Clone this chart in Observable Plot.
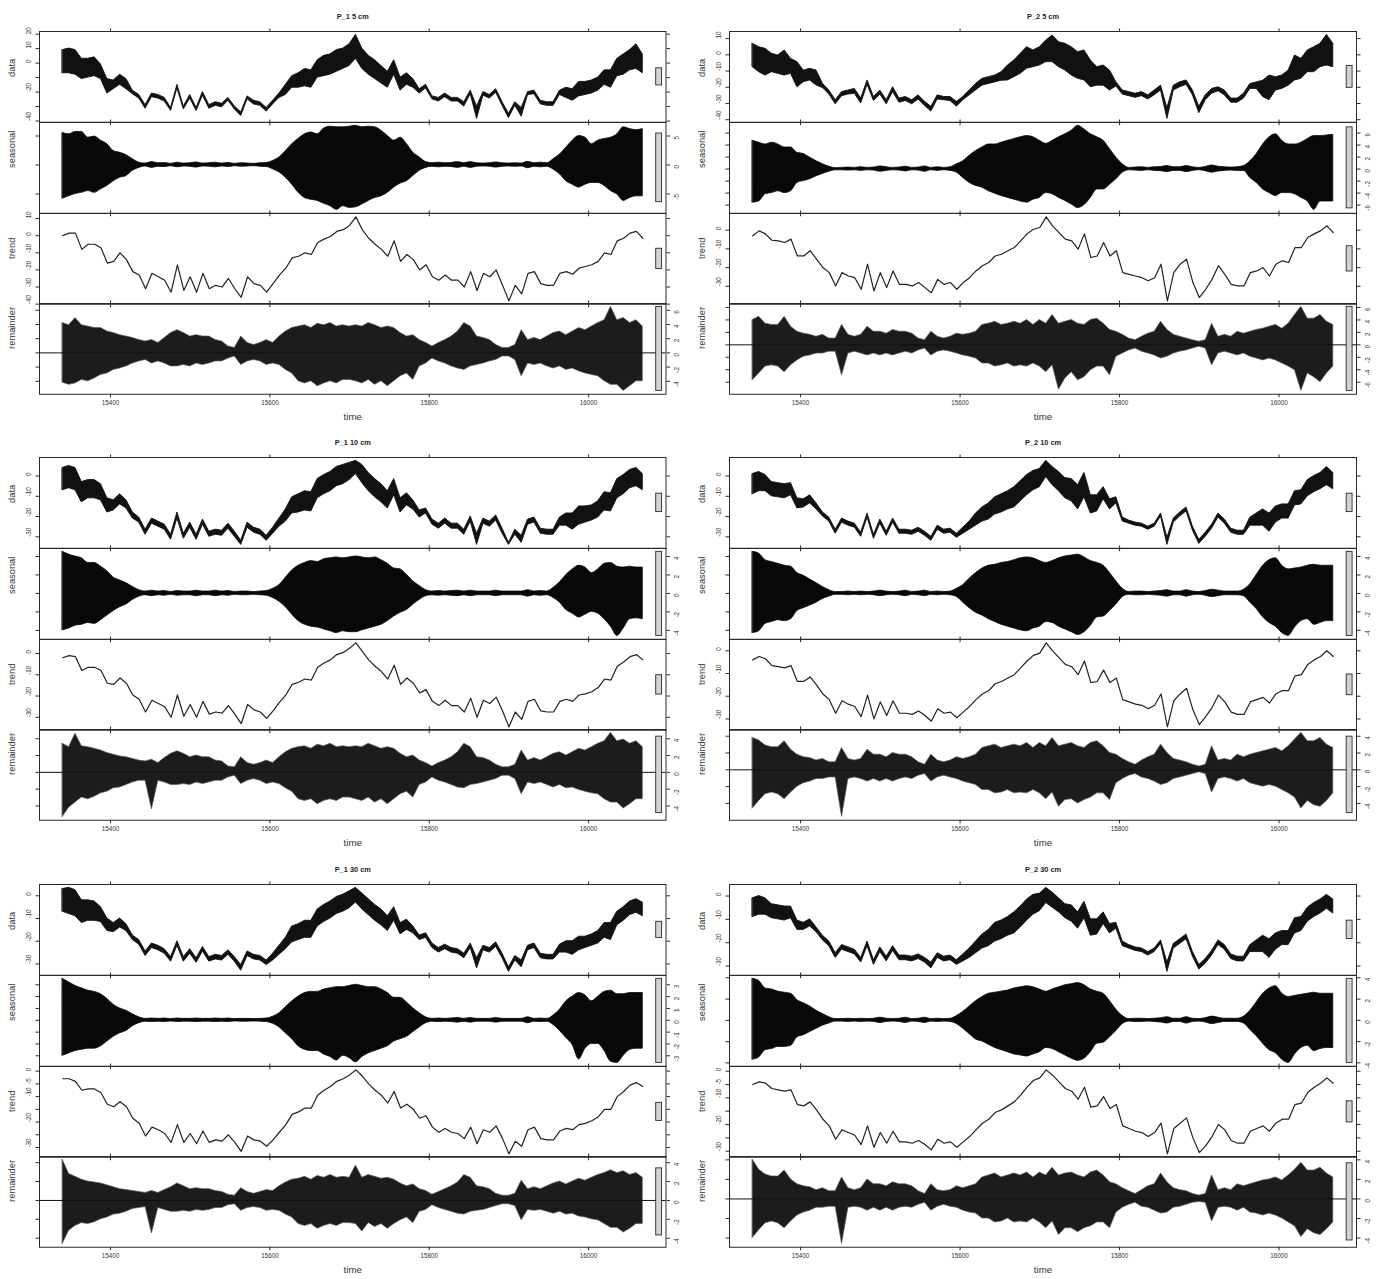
<!DOCTYPE html>
<html>
<head>
<meta charset="utf-8">
<script src="https://cdn.jsdelivr.net/npm/d3@7"></script>
<script src="https://cdn.jsdelivr.net/npm/@observablehq/plot@0.6"></script>
<style>
  html, body { margin: 0; padding: 0; background: #fff; }
  #page { position: relative; width: 1379px; height: 1279px; overflow: hidden; background: #fff; }
  #page svg { position: absolute; overflow: visible; }
</style>
</head>
<body>
<div id="page"></div>
<script>
// STL decomposition of soil temperature, sampled every 8 days
const timeStart = 15340, timeEnd = 16068, nSamples = 92;
const timeTicks = [15400, 15600, 15800, 16000];

// ---- P_1 5 cm ----
const p1_5_dataHi = [9,10,9,3,3,4,-1,-11,-12,-8, -11,-19,-22,-29,-21,-22,-24,-31,-15,-30, -22,-31,-20,-29,-27,-28,-24,-30,-34,-23, -26,-27,-31,-26,-21,-15,-9,-7,-4,-5, 2,5,6,9,10,13,19.5,10,5,2, -2,-6,2,-10,-7,-11,-18,-15,-23,-24, -21,-24,-24,-27,-19,-30,-20,-22,-18,-27, -35,-27,-31,-20,-19,-26,-27,-27,-19,-17, -18,-13,-13,-12,-10,-5,-5,3,6,9, 13,6];
const p1_5_dataLo = [-7,-7,-8,-11,-10,-9,-11,-21,-18,-15, -18,-21.5,-24.5,-31.5,-23.5,-24.5,-26.5,-33,-17.5,-32, -24.5,-33,-22.5,-31.5,-29.5,-30.5,-26,-32,-36.5,-25, -28.5,-29.5,-33.5,-28.5,-24,-22,-17,-17,-16,-17, -10,-9,-8,-6,-4,-2,3,-4,-8,-11, -14,-17,-8,-19,-15,-17,-21,-17.5,-25,-26.5, -23.5,-26.5,-26.5,-30,-21.5,-38.5,-22.5,-24.5,-20.5,-29.5, -38,-29.5,-37,-22,-21.5,-28.5,-29.5,-29.5,-22,-24, -26,-23,-22,-21,-19,-15,-17,-9,-8,-5, -4,-7];
const p1_5_seasHi = [5.5,5.3,5.7,5.7,4.7,4.9,4.2,3.6,2.4,2.1,1.7,1.0,0.4,0.25, 0.5,0.3,0.35,0.2,0.4,0.25,0.3,0.45,0.25,0.3,0.4,0.25,0.35,0.2,0.3,0.25,0.2,0.3,0.35, 0.7,1.3,2.4,3.6,4.5,5.3,5.6,5.3,6.3,6.6,6.5,6.5,6.6,6.75,6.5,6.6,6.5,5.9, 5.0,4.2,4.7,3.6,2.1,1.3,0.5, 0.3,0.4,0.3,0.35,0.5,0.3,0.5,0.3,0.25,0.3,0.45,0.3,0.25,0.3,0.25,0.55,0.3,0.4,0.3, 1.0,1.8,3.0,4.2,5.0,4.7,3.6,4.2,4.5,4.7,5.3,6.5,6.2,6.0,6.2];
const p1_5_seasLo = [-5.8,-5.4,-5.0,-4.8,-4.5,-4.8,-4.2,-3.6,-2.8,-2.2,-1.9,-1.0,-0.5,-0.25, -0.5,-0.3,-0.35,-0.2,-0.4,-0.25,-0.3,-0.45,-0.25,-0.3,-0.4,-0.25,-0.35,-0.2,-0.3,-0.25,-0.2,-0.3,-0.35, -0.75,-1.3,-2.2,-3.4,-4.8,-5.7,-6.0,-6.2,-6.7,-7.1,-7.74,-7.1,-7.4,-7.3,-6.8,-6.2,-5.7,-5.4, -4.8,-3.9,-3.2,-2.8,-1.9,-1.0,-0.5, -0.3,-0.4,-0.3,-0.35,-0.5,-0.3,-0.5,-0.3,-0.25,-0.3,-0.45,-0.3,-0.25,-0.3,-0.25,-0.55,-0.3,-0.4,-0.3, -0.8,-1.6,-2.8,-3.4,-3.9,-3.4,-3.1,-3.1,-3.6,-4.5,-5.1,-6.2,-5.7,-5.4,-5.4];
const p1_5_trend = [0,1.5,1.5,-8,-5,-5,-7,-16,-15,-10, -14,-21,-23,-31,-22,-24,-26,-33,-17,-32, -24,-33,-22,-31,-29,-30,-25,-31,-36,-24, -28,-29,-33,-28,-23,-19,-13,-12,-10,-11, -4,-2,-0.5,2.5,3.5,6,11,3.5,-1.5,-5, -8,-12,-3,-15,-11,-14,-20,-17,-24,-26, -23,-26,-26,-30,-21,-32,-22,-24,-20,-29, -38.1,-29,-34,-22,-21,-28,-29,-29,-22,-21, -22.5,-19,-18,-17,-15,-10,-11,-3,-1.5,1.5, 2.5,-1.5];
const p1_5_remHi = [4.2,3.9,4.9,3.9,3.7,3.5,3.5,3.0,2.8,2.5, 2.3,2.1,1.8,1.6,1.8,1.4,2.1,2.8,3.2,2.8, 2.3,2.5,2.3,2.3,1.8,1.6,0.9,0.7,2.3,1.4, 1.1,1.4,1.8,1.4,2.3,3.0,3.5,3.7,3.9,3.5, 4.1,3.9,4.2,3.7,3.9,3.7,3.9,3.7,4.2,3.9, 3.5,3.7,3.5,2.8,2.3,2.5,1.8,1.4,0.9,1.4, 1.8,2.3,3.0,4.2,3.7,2.3,2.1,1.8,1.1,0.7, 0.7,1.1,3.2,1.8,2.1,1.8,2.3,2.8,3.0,2.5, 3.0,3.5,3.2,3.7,4.2,4.6,6.48,4.6,4.9,4.2, 4.6,3.7];
const p1_5_remLo = [-4.2,-4.5,-4.3,-3.8,-4.0,-3.6,-3.1,-2.9,-2.4,-2.2, -1.9,-1.5,-1.2,-1.0,-1.5,-1.2,-1.5,-1.9,-1.9,-1.7, -1.9,-1.5,-1.7,-1.5,-1.2,-1.2,-0.8,-0.5,-1.7,-1.2, -1.0,-1.2,-1.7,-1.5,-1.7,-2.4,-2.9,-4.0,-4.3,-4.0, -4.7,-4.3,-4.0,-4.3,-3.8,-3.8,-4.0,-4.3,-3.8,-4.5, -4.0,-4.7,-4.0,-3.3,-2.9,-3.8,-1.9,-1.5,-0.8,-1.2, -1.5,-1.9,-2.2,-2.4,-1.9,-1.7,-1.5,-1.2,-1.0,-0.5, -0.5,-1.0,-3.3,-1.5,-1.7,-1.5,-1.9,-2.2,-1.9,-2.4, -2.2,-2.6,-2.9,-3.1,-3.3,-4.0,-4.5,-4.5,-5.35,-4.7, -4.0,-4.0];
const p1_5_dataTicks = [-40,-30,-20,-10,0,10,20], p1_5_dataLabels = [-40,-20,0,10,20];
const p1_5_seasTicks = [-5,0,5], p1_5_seasLabels = [-5,0,5];
const p1_5_trendTicks = [-40,-30,-20,-10,0,10], p1_5_trendLabels = [-40,-30,-20,-10,0,10];
const p1_5_remTicks = [-4,-2,0,2,4,6], p1_5_remLabels = [-4,-2,0,2,4,6];

// ---- P_2 5 cm ----
const p2_5_dataHi = [6.8,4.7,3.7,0.6,-0.4,2.7,-2.5,-4.5,-9.7,-8.6, -9.7,-17.9,-22,-28,-23,-22,-21,-27,-15.8,-26, -22,-28,-20,-27,-26,-28,-25,-29,-32,-25, -26,-26,-29,-26,-22,-18,-14.8,-13.8,-12.8,-10.7, -6.6,-3.5,0.6,4.7,2.7,4.7,8.8,11.9,7.8,6.8, 4.7,1.6,2.7,-3.5,-7.6,-6.6,-9.7,-16.9,-22,-23, -24,-23,-25,-22,-19,-33,-19,-16.9,-15.8,-22, -32,-25,-21,-20,-22,-27,-27,-24,-18,-17, -16,-12.8,-13.8,-12.8,-9.7,-0.4,-2.5,2.7,4.7,6.8, 12.3,6.8];
const p2_5_dataLo = [-7.6,-10.7,-12.8,-10.7,-11.7,-12.8,-11.7,-20,-16.9,-15.8, -18.9,-20.5,-24.5,-30.5,-25.5,-24.5,-24,-30,-18.5,-28.5, -24.5,-30.5,-23,-29.5,-28.5,-30.5,-27.5,-31.5,-35,-27.5, -28,-28.5,-32,-28,-25,-22,-19,-18,-17,-16, -15.8,-13.8,-11.7,-8.6,-7.6,-6.6,-4.5,-4.5,-7.6,-9.7, -12.8,-14.8,-15.8,-20,-19,-19,-22,-19.5,-24.5,-25.5, -26.5,-25.5,-27.5,-25,-22,-39.5,-22,-20,-18.5,-25, -36,-28,-24,-22.5,-25,-29.5,-29.5,-27,-21,-21, -26,-28,-22,-21,-19,-15.8,-14.8,-10.7,-10.7,-7.6, -6.6,-7.6];
const p2_5_seasHi = [4.7,4.4,4.1,4.4,4.1,3.6,3.6,2.7,2.5,1.9,1.3,0.8,0.4,0.15, 0.2,0.25,0.2,0.3,0.2,0.25,0.45,0.3,0.2,0.25,0.4,0.2,0.25,0.45,0.2,0.3,0.2,0.3, 0.8,1.3,2.2,3.0,3.6,4.1,4.1,4.4,4.7,5.0,5.3,5.5,5.3,4.7,4.2,4.7,5.3,5.8,6.4,7.2,6.6,5.8,5.3,4.7,3.3,1.9,0.8, 0.2,0.25,0.3,0.2,0.3,0.35,0.5,0.3,0.3,0.5,0.3,0.2,0.35,0.6,0.4,0.3,0.25,0.3, 0.5,1.3,2.5,4.1,5.3,5.8,4.7,4.1,4.1,4.4,5.0,5.5,5.5,5.6,5.7];
const p2_5_seasLo = [-5.6,-5.4,-4.2,-4.0,-3.7,-4.0,-3.7,-2.3,-2.0,-1.7,-1.2,-0.8,-0.45,-0.2, -0.2,-0.25,-0.2,-0.3,-0.2,-0.25,-0.45,-0.3,-0.2,-0.25,-0.4,-0.2,-0.25,-0.45,-0.2,-0.3,-0.2,-0.3, -0.6,-1.5,-2.3,-2.8,-3.1,-3.7,-4.1,-4.5,-4.8,-5.1,-5.4,-5.6,-5.1,-4.8,-4.0,-4.2,-4.8,-5.3,-5.9,-6.5,-6.0,-4.8,-3.4,-3.4,-2.6,-1.7,-0.6, -0.2,-0.25,-0.3,-0.2,-0.3,-0.35,-0.5,-0.3,-0.3,-0.5,-0.3,-0.2,-0.35,-0.6,-0.4,-0.3,-0.25,-0.3, -0.3,-1.5,-2.3,-3.4,-4.0,-4.5,-4.0,-4.0,-4.2,-4.8,-5.4,-6.8,-5.4,-5.4,-5.4];
const p2_5_trend = [-3,-0.4,-2,-5.4,-5.7,-6.6,-4.8,-13.8,-13.8,-11, -15.5,-20,-22.7,-29.8,-22.7,-24.5,-25.4,-31.6,-18.2,-32.5, -22.7,-30.7,-21.8,-29,-29,-29.8,-28,-30.7,-33.4,-26.3, -29,-28,-31.6,-28,-25.4,-21.8,-19,-17.3,-13.8,-12.9, -11,-9.3,-5.7,-2,0.5,1.4,7.1,2.3,-1.3,-4.8, -5.7,-10.2,-2,-14.6,-13.8,-6.6,-13.8,-11,-22.7,-23.6, -24.5,-25.4,-27,-25.4,-18.2,-37.8,-22.7,-18.2,-15.5,-28, -36,-31.6,-26.3,-19,-23.6,-29,-29.8,-29.8,-22.7,-21.8, -20,-24.5,-18.2,-16.4,-17.3,-9.3,-9.3,-3.9,-2,-0.4, 2.3,-1.3];
const p2_5_remHi = [4.0,4.5,3.4,3.2,3.2,4.5,2.9,2.1,1.8,1.6, 1.3,1.6,1.0,1.0,3.2,1.6,1.3,1.6,2.9,2.1, 2.1,1.8,2.4,2.1,2.1,1.8,1.0,0.75,2.1,1.3, 1.0,1.3,1.8,1.6,1.8,2.1,3.2,3.4,3.7,3.2, 3.4,3.7,3.4,4.0,3.2,4.0,3.4,4.8,3.4,3.7, 4.0,3.4,3.2,4.0,4.2,3.4,2.4,2.1,1.6,1.0, 0.75,1.3,1.8,2.1,3.7,2.4,1.6,1.3,1.0,0.75, 0.5,0.75,3.4,1.3,1.6,1.3,2.1,1.8,2.1,2.4, 2.6,2.9,3.2,2.6,3.4,4.8,6.1,4.2,4.2,4.8, 3.7,3.2];
const p2_5_remLo = [-5.7,-4.6,-3.5,-3.3,-3.5,-4.4,-3.3,-2.5,-1.9,-1.7, -1.4,-1.4,-1.1,-1.1,-4.9,-1.4,-1.1,-1.4,-1.7,-1.4, -1.7,-1.4,-1.7,-1.4,-1.1,-1.4,-0.9,-0.6,-1.7,-1.1, -0.9,-1.1,-1.4,-1.7,-1.9,-2.2,-3.0,-3.0,-3.5,-3.3, -3.0,-3.5,-3.3,-3.5,-3.0,-3.5,-4.4,-3.3,-7.2,-5.4, -4.4,-5.7,-5.2,-4.1,-3.5,-3.5,-4.9,-1.9,-1.4,-0.9, -0.6,-1.1,-1.4,-1.7,-2.2,-1.9,-1.4,-1.1,-0.9,-0.6, -0.3,-0.6,-3.3,-1.4,-1.1,-1.4,-1.7,-1.4,-1.9,-2.2, -2.5,-2.2,-2.5,-3.0,-3.5,-4.1,-7.4,-4.6,-5.2,-6.0, -4.6,-3.5];
const p2_5_dataTicks = [-40,-30,-20,-10,0,10], p2_5_dataLabels = [-40,-30,-20,-10,0,10];
const p2_5_seasTicks = [-6,-4,-2,0,2,4,6], p2_5_seasLabels = [-6,-4,-2,0,2,4,6];
const p2_5_trendTicks = [-30,-20,-10,0], p2_5_trendLabels = [-30,-20,-10,0];
const p2_5_remTicks = [-6,-4,-2,0,2,4,6], p2_5_remLabels = [-6,-4,-2,0,2,4,6];

// ---- P_1 10 cm ----
const p1_10_dataHi = [4,5,4,-3,-2,-2,-4,-11,-12,-9, -12,-18,-20.5,-26.5,-21,-22.5,-24,-29,-18,-28.5, -23,-29,-21.5,-27.5,-26.5,-27,-23.5,-27.5,-32,-23, -25.5,-26.5,-29.5,-25.5,-21,-16.5,-10.5,-9,-7.5,-8, -1.5,0.5,2,4.5,5.5,6.5,7.5,5.5,1.5,-1.5, -4,-7.5,-1.5,-11,-8.5,-12,-17,-16,-21.5,-23.5, -21,-23.5,-23.5,-26.5,-20,-28.5,-21,-22.5,-19.5,-26, -33,-26.5,-29.5,-21.5,-20.5,-26,-26.5,-26.5,-20.5,-18.5, -18.5,-15,-15,-14.5,-12.5,-8,-8.5,-1.5,0.5,3, 4,1];
const p1_10_dataLo = [-7,-6,-7,-13,-11,-11,-12,-18,-17,-14, -16,-21,-23,-29,-23.5,-25,-26.5,-31.5,-21,-31, -25.5,-31.5,-24,-30,-29,-29.5,-26,-30,-34,-25.5, -28,-29,-32,-28.5,-25,-22.5,-18.5,-18,-17,-17.5, -11,-9,-7.5,-5,-4,-2,1,-3.5,-7.5,-10.5, -13,-16,-9.5,-18,-14.5,-16.5,-20.5,-18.5,-24,-26, -23.5,-26,-26,-29,-22.5,-34,-23.5,-25,-22,-28.5, -34,-29,-33,-24,-23,-28.5,-29,-29,-24.5,-24.5, -26.5,-24,-23,-22,-20.5,-17,-17.5,-11,-9,-6, -5,-7];
const p1_10_seasHi = [4.5,4.2,4.0,3.8,3.3,3.3,2.9,2.4,1.7,1.4,1.1,0.7,0.35,0.2, 0.3,0.2,0.25,0.15,0.25,0.2,0.2,0.3,0.2,0.2,0.3,0.2,0.25,0.15,0.2,0.2,0.15,0.2,0.25, 0.5,0.9,1.7,2.5,3.0,3.3,3.5,3.4,3.7,3.8,3.9,3.8,3.9,4.0,3.9,3.8,3.9,3.6, 3.2,2.7,2.6,2.0,1.3,0.8,0.35, 0.2,0.25,0.2,0.25,0.3,0.2,0.3,0.2,0.2,0.2,0.3,0.2,0.2,0.2,0.2,0.35,0.2,0.25,0.2, 0.6,1.2,2.0,2.6,3.0,2.8,2.2,2.6,3.2,3.3,2.9,2.8,2.9,2.8,2.8];
const p1_10_seasLo = [-4.0,-3.8,-3.5,-3.4,-3.2,-3.3,-2.9,-2.4,-1.9,-1.5,-1.2,-0.7,-0.35,-0.2, -0.3,-0.2,-0.25,-0.15,-0.25,-0.2,-0.2,-0.3,-0.2,-0.2,-0.3,-0.2,-0.25,-0.15,-0.2,-0.2,-0.15,-0.2,-0.25, -0.5,-0.9,-1.5,-2.3,-3.0,-3.4,-3.6,-3.7,-3.9,-4.1,-4.3,-4.1,-4.2,-4.2,-4.0,-3.8,-3.6,-3.4, -3.0,-2.5,-2.1,-1.8,-1.2,-0.7,-0.3, -0.2,-0.25,-0.2,-0.25,-0.3,-0.2,-0.3,-0.2,-0.2,-0.2,-0.3,-0.2,-0.2,-0.2,-0.2,-0.35,-0.2,-0.25,-0.2, -0.5,-1.0,-1.8,-2.2,-2.6,-2.3,-2.0,-2.2,-2.8,-3.6,-4.6,-3.8,-2.8,-2.7,-2.8];
const p1_10_trend = [-2,-1,-1.5,-8,-6.5,-6.5,-8,-14,-14.5,-11.5, -14,-19.5,-21.5,-27.5,-22,-23.5,-25,-30,-19.5,-29.5, -24,-30,-22.5,-28.5,-27.5,-28,-24.5,-28.5,-33,-24, -26.5,-27.5,-30.5,-27,-23,-19.5,-14.5,-13.5,-12,-12.5, -6.5,-4.5,-3,-0.5,0.5,2.5,5,1,-3,-6, -8.5,-12,-5.5,-14.5,-11.5,-14,-18.5,-17,-22.5,-24.5, -22,-24.5,-24.5,-27.5,-21,-30,-22,-23.5,-20.5,-27, -34.5,-27.5,-31,-22.5,-21.5,-27,-27.5,-27.5,-22.5,-21.5, -22.5,-19.5,-19,-18,-16,-12,-12.5,-6,-4,-1.5, -0.5,-3];
const p1_10_remHi = [3.4,3.0,4.6,3.1,3.0,2.8,2.6,2.3,2.1,1.9, 1.8,1.6,1.4,1.3,1.5,1.1,1.7,2.2,2.5,2.2, 1.8,2.0,1.8,1.8,1.4,1.3,0.7,0.6,1.8,1.1, 0.9,1.1,1.4,1.1,1.8,2.4,2.8,3.0,3.1,2.8, 3.3,3.1,3.4,3.0,3.1,3.0,3.1,3.0,3.4,3.1, 2.8,3.0,2.8,2.2,1.8,2.0,1.4,1.1,0.7,1.1, 1.4,1.8,2.4,3.4,3.0,1.8,1.7,1.4,0.9,0.6, 0.6,0.9,2.6,1.4,1.7,1.4,1.8,2.2,2.4,2.0, 2.4,2.8,2.6,3.0,3.4,3.7,4.7,3.7,3.9,3.4, 3.7,3.0];
const p1_10_remLo = [-5.3,-4.2,-3.6,-3.0,-3.2,-2.9,-2.5,-2.3,-1.9,-1.8, -1.5,-1.2,-1.0,-1.0,-4.4,-1.0,-1.2,-1.5,-1.5,-1.4, -1.5,-1.2,-1.4,-1.2,-1.0,-1.0,-0.6,-0.4,-1.4,-1.0, -0.8,-1.0,-1.4,-1.2,-1.4,-1.9,-2.3,-3.2,-3.4,-3.2, -3.8,-3.4,-3.2,-3.4,-3.0,-3.0,-3.2,-3.4,-3.0,-3.6, -3.2,-3.8,-3.2,-2.6,-2.3,-3.0,-1.5,-1.2,-0.6,-1.0, -1.2,-1.5,-1.8,-1.9,-1.5,-1.4,-1.2,-1.0,-0.8,-0.4, -0.4,-0.8,-2.6,-1.2,-1.4,-1.2,-1.5,-1.8,-1.5,-1.9, -1.8,-2.1,-2.3,-2.5,-2.6,-3.2,-3.6,-3.6,-4.3,-3.8, -3.2,-3.2];
const p1_10_dataTicks = [-30,-20,-10,0], p1_10_dataLabels = [-30,-20,-10,0];
const p1_10_seasTicks = [-4,-2,0,2,4], p1_10_seasLabels = [-4,-2,0,2,4];
const p1_10_trendTicks = [-30,-20,-10,0], p1_10_trendLabels = [-30,-20,-10,0];
const p1_10_remTicks = [-4,-2,0,2,4], p1_10_remLabels = [-4,-2,0,2,4];

// ---- P_2 10 cm ----
const p2_10_dataHi = [1,2,0.5,-3,-3.5,-4,-3.5,-11,-11.5,-9.5, -13.5,-18,-20.5,-26.5,-21,-22.5,-23.5,-28,-18.5,-29, -21.5,-27.5,-21,-26.5,-26.5,-27,-25.5,-27.5,-30,-24.5, -26.5,-26,-28.5,-25.5,-22.5,-18.5,-15.5,-13.5,-10.5,-9, -7.5,-5.5,-2.5,0.5,2.5,3.5,7.5,4.5,2,-1, -1.5,-4.5,1.5,-9.5,-9.5,-5.5,-11.5,-10.5,-20.5,-22, -23,-23.5,-25,-23.5,-18.5,-30.5,-21,-18,-15.5,-25, -31.5,-28,-24,-18.5,-21.5,-26,-27,-27,-20.5,-18.5, -16.5,-18.5,-15,-14,-14,-7.5,-7,-2,0,1.5, 4.5,1.5];
const p2_10_dataLo = [-9,-7.5,-7.5,-10,-10.5,-11,-9.5,-16,-15.5,-13.5, -16.5,-20,-22.5,-28.5,-23,-24.5,-25.5,-30,-20.5,-31, -23.5,-29.5,-23,-28.5,-28.5,-29,-27.5,-29.5,-32,-26.5, -28.5,-28,-30.5,-28.5,-26.5,-24.5,-22.5,-21.5,-19,-18, -16.5,-15.5,-12.5,-9.5,-7,-5.5,-0.5,-4.5,-7.5,-11, -12.5,-16.5,-10.5,-18.5,-17.5,-11.5,-16.5,-13.5,-22.5,-23.5, -24.5,-25,-26.5,-25,-20,-34,-23,-20,-17.5,-27, -33.5,-30,-26,-20.5,-23.5,-28,-29,-29,-24.5,-24.5, -24.5,-27.5,-23,-21,-21,-14.5,-14,-10,-8,-6.5, -4.5,-6.5];
const p2_10_seasHi = [4.5,4.3,3.6,3.4,3.2,3.0,2.9,2.2,1.9,1.5,1.1,0.7,0.35,0.15, 0.15,0.2,0.15,0.2,0.15,0.2,0.3,0.2,0.15,0.2,0.3,0.15,0.2,0.3,0.15,0.2,0.15,0.2, 0.5,0.9,1.6,2.2,2.7,3.0,3.1,3.3,3.4,3.6,3.8,3.9,3.8,3.5,3.3,3.5,3.8,4.0,4.1,4.2,3.9,3.5,3.3,3.0,2.2,1.3,0.5, 0.15,0.2,0.2,0.15,0.2,0.25,0.35,0.2,0.2,0.35,0.2,0.15,0.25,0.4,0.3,0.2,0.2,0.2, 0.4,1.0,2.0,3.0,3.6,3.8,3.0,2.6,2.7,2.8,3.0,3.1,3.0,3.0,3.0];
const p2_10_seasLo = [-4.3,-4.1,-3.3,-3.1,-2.9,-3.0,-2.8,-1.9,-1.6,-1.3,-1.0,-0.6,-0.35,-0.15, -0.15,-0.2,-0.15,-0.2,-0.15,-0.2,-0.3,-0.2,-0.15,-0.2,-0.3,-0.15,-0.2,-0.3,-0.15,-0.2,-0.15,-0.2, -0.4,-1.0,-1.6,-2.1,-2.4,-2.8,-3.1,-3.4,-3.6,-3.8,-4.0,-4.1,-3.8,-3.6,-3.1,-3.2,-3.6,-3.9,-4.2,-4.5,-4.2,-3.5,-2.6,-2.5,-1.9,-1.2,-0.4, -0.15,-0.2,-0.2,-0.15,-0.2,-0.25,-0.35,-0.2,-0.2,-0.35,-0.2,-0.15,-0.25,-0.4,-0.3,-0.2,-0.2,-0.2, -0.3,-1.0,-1.7,-2.6,-3.2,-3.6,-4.3,-4.6,-3.7,-3.0,-2.8,-3.4,-3.2,-3.0,-3.0];
const p2_10_trend = [-4,-2.5,-3.5,-6.5,-7,-7.5,-6.5,-13.5,-13.5,-11.5, -15,-19,-21.5,-27.5,-22,-23.5,-24.5,-29,-19.5,-30, -22.5,-28.5,-22,-27.5,-27.5,-28,-26.5,-28.5,-31,-25.5, -27.5,-27,-29.5,-27,-24.5,-21.5,-19,-17.5,-14.5,-13.5, -12,-10.5,-7.5,-4.5,-2,-1,3.5,0,-3,-6, -7,-10.5,-4.5,-14,-13.5,-8.5,-14,-12,-21.5,-22.5, -23.5,-24,-25.5,-24,-19,-33.5,-22,-19,-16.5,-26, -32.5,-29,-25,-19.5,-22.5,-27,-28,-28,-22.5,-21.5, -20.5,-23,-19,-17.5,-17.5,-11,-10.5,-6,-4,-2.5, 0,-2.5];
const p2_10_remHi = [3.8,3.5,2.9,2.7,2.7,3.4,2.4,1.8,1.5,1.4, 1.1,1.3,0.9,0.9,2.6,1.3,1.1,1.3,2.4,1.8, 1.8,1.5,2.0,1.8,1.8,1.5,0.9,0.6,1.8,1.1, 0.9,1.1,1.5,1.3,1.5,1.8,2.6,2.8,3.0,2.6, 2.8,3.0,2.8,3.2,2.6,3.2,2.8,3.8,2.8,3.0, 3.2,2.8,2.6,3.2,3.4,2.8,2.0,1.8,1.3,0.9, 0.6,1.1,1.5,1.8,3.0,2.0,1.3,1.1,0.9,0.6, 0.4,0.6,2.8,1.1,1.3,1.1,1.8,1.5,1.8,2.0, 2.2,2.4,2.6,2.2,2.8,3.6,4.4,3.4,3.4,3.8, 3.0,2.6];
const p2_10_remLo = [-4.6,-3.7,-2.9,-2.7,-2.9,-3.5,-2.7,-2.0,-1.6,-1.4, -1.1,-1.1,-0.9,-0.9,-5.6,-1.1,-0.9,-1.1,-1.4,-1.1, -1.4,-1.1,-1.4,-1.1,-0.9,-1.1,-0.7,-0.5,-1.4,-0.9, -0.7,-0.9,-1.1,-1.4,-1.6,-1.8,-2.4,-2.4,-2.8,-2.7, -2.4,-2.8,-2.7,-2.8,-2.4,-2.8,-3.5,-2.7,-4.4,-3.6, -3.5,-4.0,-3.6,-3.3,-2.8,-2.8,-3.6,-1.6,-1.1,-0.7, -0.5,-0.9,-1.1,-1.4,-1.8,-1.6,-1.1,-0.9,-0.7,-0.5, -0.3,-0.5,-2.7,-1.1,-0.9,-1.1,-1.4,-1.1,-1.6,-1.8, -2.0,-1.8,-2.0,-2.4,-2.8,-3.3,-4.6,-3.7,-4.2,-4.4, -3.7,-2.8];
const p2_10_dataTicks = [-30,-20,-10,0], p2_10_dataLabels = [-30,-20,-10,0];
const p2_10_seasTicks = [-4,-2,0,2,4], p2_10_seasLabels = [-4,-2,0,2,4];
const p2_10_trendTicks = [-30,-20,-10,0], p2_10_trendLabels = [-30,-20,-10,0];
const p2_10_remTicks = [-4,-2,0,2,4], p2_10_remLabels = [-4,-2,0,2,4];

// ---- P_1 30 cm ----
const p1_30_dataHi = [3,3.5,2.5,-2,-2,-2.5,-5,-10,-12,-10, -12.5,-17.5,-19.5,-24.5,-21,-22,-23.5,-27,-20,-27, -23.5,-27.5,-22.5,-27,-26,-26.5,-24,-27,-30.5,-24.5, -26,-26.5,-28.5,-25.5,-22,-18.5,-13.5,-12.5,-11,-11, -6,-4,-2.5,-0.5,0.5,2,3.5,1,-1.5,-4, -6,-9,-5,-12,-10.5,-13.5,-17.5,-16.5,-21,-23, -21.5,-23,-23.5,-25.5,-21,-27.5,-22,-23,-20.5,-25.5, -31.5,-26.5,-28.5,-22,-21,-25.5,-26,-26,-21.5,-20, -20,-18,-18,-17,-15.5,-12,-12,-7,-5,-2.5, -1.5,-3];
const p1_30_dataLo = [-7,-8,-9,-12,-11,-11,-11.5,-15.5,-16,-14, -15.5,-19.5,-21.5,-26.5,-23,-24,-25.5,-29,-22,-29, -25.5,-29.5,-24.5,-29,-28,-28.5,-26,-29,-33,-26.5, -28,-28.5,-30.5,-28.5,-26,-23.5,-20.5,-19.5,-18.5,-18.5, -13.5,-11.5,-10,-8,-7,-5.5,-3,-6,-8.5,-11, -13,-15.5,-11,-17,-15,-16.5,-19.5,-18.5,-23,-25, -23.5,-25,-25.5,-27.5,-23,-32,-24,-25,-22.5,-27.5, -33.5,-28.5,-31.5,-24,-23,-27.5,-28,-28,-25,-25, -26,-24,-23,-22,-21,-18.5,-19.5,-13,-11,-8.5, -7.5,-9];
const p1_30_seasHi = [3.5,3.2,2.9,2.7,2.5,2.4,2.2,1.8,1.3,1.0,0.8,0.5,0.25,0.12, 0.15,0.12,0.15,0.1,0.15,0.12,0.12,0.15,0.12,0.12,0.15,0.12,0.15,0.1,0.12,0.12,0.1,0.12,0.15, 0.3,0.6,1.1,1.6,2.0,2.3,2.4,2.4,2.6,2.7,2.8,2.8,2.9,3.0,2.9,2.8,2.8,2.6, 2.3,1.9,1.9,1.5,1.0,0.6,0.25, 0.12,0.15,0.12,0.15,0.2,0.12,0.2,0.12,0.12,0.12,0.2,0.12,0.12,0.12,0.12,0.25,0.12,0.15,0.12, 0.4,0.9,1.6,2.0,2.3,2.1,1.6,2.0,2.4,2.5,2.2,2.2,2.3,2.3,2.3];
const p1_30_seasLo = [-3.0,-2.8,-2.6,-2.5,-2.4,-2.4,-2.2,-1.8,-1.4,-1.1,-0.9,-0.5,-0.25,-0.12, -0.15,-0.12,-0.15,-0.1,-0.15,-0.12,-0.12,-0.15,-0.12,-0.12,-0.15,-0.12,-0.15,-0.1,-0.12,-0.12,-0.1,-0.12,-0.15, -0.3,-0.6,-1.1,-1.6,-2.2,-2.5,-2.6,-2.6,-2.9,-3.1,-3.4,-3.0,-3.2,-3.55,-3.1,-2.8,-2.6,-2.4, -2.2,-1.8,-1.6,-1.4,-1.0,-0.6,-0.25, -0.12,-0.15,-0.12,-0.15,-0.2,-0.12,-0.2,-0.12,-0.12,-0.12,-0.2,-0.12,-0.12,-0.12,-0.12,-0.25,-0.12,-0.15,-0.12, -0.4,-0.9,-1.5,-2.1,-3.3,-2.4,-2.0,-2.0,-2.6,-3.5,-3.6,-3.0,-2.5,-2.4,-2.4];
const p1_30_trend = [-3,-3,-4,-7.5,-7,-7,-8.5,-13,-14,-12, -14,-18.5,-20.5,-25.5,-22,-23,-24.5,-28,-21,-28, -24.5,-28.5,-23.5,-28,-27,-27.5,-25,-28,-31.5,-25.5, -27,-27.5,-29.5,-27,-24,-21,-17,-16,-14.5,-14.5, -9.5,-7.5,-6,-4,-3,-1.5,0.5,-2,-5,-7.5, -9.5,-12.5,-8,-14.5,-13,-15,-18.5,-17.5,-22,-24, -22.5,-24,-24.5,-26.5,-22,-28.5,-23,-24,-21.5,-26.5, -32.5,-27.5,-29.5,-23,-22,-26.5,-27,-27,-23.5,-22.5, -23,-21,-20.5,-19.5,-18,-15,-15,-10,-8,-5.5, -4.5,-6];
const p1_30_remHi = [4.3,2.8,2.5,2.2,2.0,1.9,1.8,1.6,1.4,1.2, 1.1,1.0,0.9,0.8,1.0,0.8,1.1,1.4,1.8,1.5, 1.2,1.3,1.2,1.2,1.0,0.9,0.6,0.5,1.3,0.9, 0.7,0.9,1.1,1.0,1.5,1.9,2.2,2.3,2.5,2.2, 2.6,2.4,2.7,2.4,2.5,2.4,3.7,2.4,2.7,2.5, 2.3,2.4,2.2,1.8,1.5,1.7,1.2,1.0,0.6,0.9, 1.2,1.5,1.9,2.7,2.4,1.5,1.4,1.2,0.7,0.5, 0.5,0.7,2.1,1.2,1.4,1.2,1.5,1.8,2.0,1.7, 2.0,2.3,2.1,2.4,2.7,2.9,3.2,2.9,3.1,2.7, 2.9,2.4];
const p1_30_remLo = [-4.6,-3.2,-2.7,-2.4,-2.5,-2.3,-2.0,-1.8,-1.5,-1.4, -1.2,-0.9,-0.8,-0.7,-3.5,-0.8,-1.0,-1.2,-1.2,-1.1, -1.2,-1.0,-1.1,-1.0,-0.8,-0.8,-0.5,-0.4,-1.1,-0.8, -0.7,-0.8,-1.1,-1.0,-1.1,-1.5,-1.8,-2.5,-2.7,-2.5, -3.0,-2.7,-2.5,-2.7,-2.4,-2.4,-2.5,-3.3,-2.4,-2.8, -2.5,-3.0,-2.5,-2.1,-1.8,-2.4,-1.2,-1.0,-0.5,-0.8, -1.0,-1.2,-1.4,-1.5,-1.2,-1.1,-1.0,-0.8,-0.6,-0.4, -0.4,-0.6,-2.1,-1.0,-1.1,-1.0,-1.2,-1.4,-1.2,-1.5, -1.4,-1.7,-1.8,-2.0,-2.1,-2.5,-2.9,-2.9,-3.4,-3.0, -2.5,-2.5];
const p1_30_dataTicks = [-30,-20,-10,0], p1_30_dataLabels = [-30,-20,-10,0];
const p1_30_seasTicks = [-3,-2,-1,0,1,2,3], p1_30_seasLabels = [-3,-2,-1,0,1,2,3];
const p1_30_trendTicks = [-30,-25,-20,-15,-10,-5,0], p1_30_trendLabels = [-30,-20,-10,-5,0];
const p1_30_remTicks = [-4,-2,0,2,4], p1_30_remLabels = [-4,-2,0,2,4];

// ---- P_2 30 cm ----
const p2_30_dataHi = [-1,0,-1,-3.5,-4,-4.5,-4.5,-10.5,-11.5,-10, -13.5,-17,-19.5,-24.5,-21,-22,-23,-26.5,-19.5,-27.5, -22,-26,-21.5,-25.5,-25.5,-26,-25,-26.5,-28.5,-24.5, -26,-25.5,-27.5,-25,-22.5,-19.5,-16.5,-14.5,-11.5,-10.5, -9,-7,-4.5,-1.5,0.5,1,3.5,1.5,-1,-3.5, -4,-7,-2.5,-10,-10,-7,-12,-11.5,-19.5,-21, -22,-22.5,-24,-22.5,-19,-28.5,-20.5,-18.5,-16.5,-24, -29.5,-27,-23.5,-19,-21,-25,-26,-26,-21,-19, -17,-18.5,-16,-15,-15,-9.5,-9,-5,-3,-1.5, 0.5,-1.5];
const p2_30_dataLo = [-9,-8,-8,-9.5,-10,-10.5,-9.5,-14.5,-14.5,-13, -15.5,-19,-21.5,-26.5,-23,-24,-25,-28.5,-21.5,-29.5, -24,-28,-23.5,-27.5,-27.5,-28,-27,-28.5,-31,-26.5, -28,-27.5,-29.5,-28,-26.5,-24.5,-22.5,-21.5,-19.5,-18.5, -17,-16,-13.5,-10.5,-8,-6.5,-3,-5,-7,-9.5, -11,-14,-9.5,-17,-16.5,-12,-16,-14,-21.5,-22.5, -23.5,-24,-25.5,-24,-20.5,-32.5,-22.5,-20.5,-18.5,-26, -31.5,-29,-25.5,-21,-23,-27,-28,-28,-24,-24, -24,-26.5,-23,-21,-21,-16,-15,-11,-9,-7.5, -5.5,-7.5];
const p2_30_seasHi = [3.9,3.7,3.0,2.9,2.7,2.6,2.5,1.9,1.6,1.3,0.9,0.6,0.3,0.12, 0.12,0.15,0.12,0.15,0.12,0.15,0.25,0.15,0.12,0.15,0.25,0.12,0.15,0.25,0.12,0.15,0.12,0.15, 0.4,0.8,1.3,1.8,2.2,2.5,2.6,2.7,2.8,3.0,3.1,3.2,3.1,2.9,2.7,2.9,3.1,3.3,3.4,3.5,3.3,2.9,2.7,2.5,1.8,1.0,0.4, 0.12,0.15,0.15,0.12,0.15,0.2,0.3,0.15,0.15,0.3,0.15,0.12,0.2,0.35,0.25,0.15,0.15,0.15, 0.35,0.9,1.7,2.5,3.0,3.2,2.5,2.2,2.3,2.4,2.5,2.6,2.5,2.5,2.5];
const p2_30_seasLo = [-3.7,-3.5,-2.8,-2.7,-2.5,-2.5,-2.4,-1.6,-1.4,-1.1,-0.8,-0.5,-0.3,-0.12, -0.12,-0.15,-0.12,-0.15,-0.12,-0.15,-0.25,-0.15,-0.12,-0.15,-0.25,-0.12,-0.15,-0.25,-0.12,-0.15,-0.12,-0.15, -0.35,-0.8,-1.3,-1.8,-2.0,-2.3,-2.6,-2.8,-3.0,-3.2,-3.3,-3.4,-3.2,-3.0,-2.6,-2.7,-3.0,-3.3,-3.6,-3.8,-3.6,-3.0,-2.2,-2.1,-1.6,-1.0,-0.35, -0.12,-0.15,-0.15,-0.12,-0.15,-0.2,-0.3,-0.15,-0.15,-0.3,-0.15,-0.12,-0.2,-0.35,-0.25,-0.15,-0.15,-0.15, -0.3,-0.9,-1.5,-2.2,-2.8,-3.1,-3.7,-4.0,-3.2,-2.6,-2.4,-2.9,-2.7,-2.6,-2.6];
const p2_30_trend = [-5,-4,-4.5,-6.5,-7,-7.5,-7,-12.5,-13,-11.5, -14.5,-18,-20.5,-25.5,-22,-23,-24,-27.5,-20.5,-28.5, -23,-27,-22.5,-26.5,-26.5,-27,-26,-27.5,-29.5,-25.5, -27,-26.5,-28.5,-26.5,-24.5,-22,-19.5,-18,-15.5,-14.5, -13,-11.5,-9,-6,-3.5,-2.5,0.5,-1.5,-4,-6.5, -7.5,-10.5,-6,-13.5,-13,-9.5,-14,-12.5,-20.5,-21.5, -22.5,-23,-24.5,-23,-19.5,-31,-21.5,-19.5,-17.5,-25, -30.5,-28,-24.5,-20,-22,-26,-27,-27,-22.5,-21.5, -20.5,-22.5,-19.5,-18,-18,-12.5,-12,-8,-6,-4.5, -2.5,-4.5];
const p2_30_remHi = [4.0,3.0,2.5,2.3,2.3,2.9,2.0,1.5,1.3,1.2, 0.9,1.1,0.8,0.8,2.2,1.1,0.9,1.1,2.0,1.5, 1.5,1.3,1.7,1.5,1.5,1.3,0.8,0.5,1.5,0.9, 0.8,0.9,1.3,1.1,1.3,1.5,2.2,2.4,2.6,2.2, 2.4,2.6,2.4,2.7,2.2,2.7,2.4,3.2,2.4,2.6, 2.7,2.4,2.2,2.7,2.9,2.4,1.7,1.5,1.1,0.8, 0.5,0.9,1.3,1.5,2.6,1.7,1.1,0.9,0.8,0.5, 0.35,0.5,2.4,0.9,1.1,0.9,1.5,1.3,1.5,1.7, 1.9,2.0,2.2,1.9,2.4,3.0,3.7,2.9,2.9,3.2, 2.6,2.2];
const p2_30_remLo = [-4.0,-3.2,-2.5,-2.3,-2.5,-3.0,-2.3,-1.7,-1.4,-1.2, -0.9,-0.9,-0.8,-0.8,-4.6,-0.9,-0.8,-0.9,-1.2,-0.9, -1.2,-0.9,-1.2,-0.9,-0.8,-0.9,-0.6,-0.4,-1.2,-0.8, -0.6,-0.8,-0.9,-1.2,-1.4,-1.5,-2.0,-2.0,-2.4,-2.3, -2.0,-2.4,-2.3,-2.4,-2.0,-2.4,-3.0,-2.3,-3.7,-3.0, -3.0,-3.4,-3.0,-2.8,-2.4,-2.4,-3.0,-1.4,-0.9,-0.6, -0.4,-0.8,-0.9,-1.2,-1.5,-1.4,-0.9,-0.8,-0.6,-0.4, -0.3,-0.4,-2.3,-0.9,-0.8,-0.9,-1.2,-0.9,-1.4,-1.5, -1.7,-1.5,-1.7,-2.0,-2.4,-2.8,-3.9,-3.1,-3.5,-3.7, -3.1,-2.4];
const p2_30_dataTicks = [-30,-20,-10,0], p2_30_dataLabels = [-30,-20,-10,0];
const p2_30_seasTicks = [-4,-2,0,2,4], p2_30_seasLabels = [-4,-2,0,2,4];
const p2_30_trendTicks = [-30,-25,-20,-15,-10,-5,0], p2_30_trendLabels = [-30,-20,-10,-5,0];
const p2_30_remTicks = [-4,-2,0,2,4], p2_30_remLabels = [-4,-2,0,2,4];

// ---- one chart per site and depth ----
const charts = [
  {title: "P_1 5 cm", row: 0, col: 0,
   data: [p1_5_dataLo, p1_5_dataHi, p1_5_dataTicks, p1_5_dataLabels],
   seasonal: [p1_5_seasLo, p1_5_seasHi, p1_5_seasTicks, p1_5_seasLabels],
   trend: [p1_5_trend, p1_5_trend, p1_5_trendTicks, p1_5_trendLabels],
   remainder: [p1_5_remLo, p1_5_remHi, p1_5_remTicks, p1_5_remLabels]},
  {title: "P_2 5 cm", row: 0, col: 1,
   data: [p2_5_dataLo, p2_5_dataHi, p2_5_dataTicks, p2_5_dataLabels],
   seasonal: [p2_5_seasLo, p2_5_seasHi, p2_5_seasTicks, p2_5_seasLabels],
   trend: [p2_5_trend, p2_5_trend, p2_5_trendTicks, p2_5_trendLabels],
   remainder: [p2_5_remLo, p2_5_remHi, p2_5_remTicks, p2_5_remLabels]},
  {title: "P_1 10 cm", row: 1, col: 0,
   data: [p1_10_dataLo, p1_10_dataHi, p1_10_dataTicks, p1_10_dataLabels],
   seasonal: [p1_10_seasLo, p1_10_seasHi, p1_10_seasTicks, p1_10_seasLabels],
   trend: [p1_10_trend, p1_10_trend, p1_10_trendTicks, p1_10_trendLabels],
   remainder: [p1_10_remLo, p1_10_remHi, p1_10_remTicks, p1_10_remLabels]},
  {title: "P_2 10 cm", row: 1, col: 1,
   data: [p2_10_dataLo, p2_10_dataHi, p2_10_dataTicks, p2_10_dataLabels],
   seasonal: [p2_10_seasLo, p2_10_seasHi, p2_10_seasTicks, p2_10_seasLabels],
   trend: [p2_10_trend, p2_10_trend, p2_10_trendTicks, p2_10_trendLabels],
   remainder: [p2_10_remLo, p2_10_remHi, p2_10_remTicks, p2_10_remLabels]},
  {title: "P_1 30 cm", row: 2, col: 0,
   data: [p1_30_dataLo, p1_30_dataHi, p1_30_dataTicks, p1_30_dataLabels],
   seasonal: [p1_30_seasLo, p1_30_seasHi, p1_30_seasTicks, p1_30_seasLabels],
   trend: [p1_30_trend, p1_30_trend, p1_30_trendTicks, p1_30_trendLabels],
   remainder: [p1_30_remLo, p1_30_remHi, p1_30_remTicks, p1_30_remLabels]},
  {title: "P_2 30 cm", row: 2, col: 1,
   data: [p2_30_dataLo, p2_30_dataHi, p2_30_dataTicks, p2_30_dataLabels],
   seasonal: [p2_30_seasLo, p2_30_seasHi, p2_30_seasTicks, p2_30_seasLabels],
   trend: [p2_30_trend, p2_30_trend, p2_30_trendTicks, p2_30_trendLabels],
   remainder: [p2_30_remLo, p2_30_remHi, p2_30_remTicks, p2_30_remLabels]}
];

const times = d3.range(nSamples).map(i => timeStart + i * (timeEnd - timeStart) / (nSamples - 1));
const index = d3.range(nSamples);
const xPad = (timeEnd - timeStart) * 0.04;
const xDomain = [timeStart - xPad, timeEnd + xPad];
const xSpan = xDomain[1] - xDomain[0];

const columns = [
  {left: 0, frameLeft: 39, frameRight: 665.5},
  {left: 689, frameLeft: 729, frameRight: 1356}
];
const rowTops = [31, 457, 884];
const panelH = 90.75;
const svgW = 690;
const ink = "#2a2a2a";
const font = "'Liberation Sans', Arial, Helvetica, sans-serif";
const page = document.getElementById("page");

function render(chart) {
  const col = columns[chart.col];
  const comps = ["data", "seasonal", "trend", "remainder"].map(name => {
    const [lo, hi, ticks, labels] = chart[name];
    return {name, lo, hi, ticks, labels, min: d3.min(lo), max: d3.max(hi)};
  });
  // range bars share one length: the smallest component range
  const barLen = d3.min(comps, c => c.max - c.min);

  comps.forEach((c, j) => {
    const last = j === comps.length - 1;
    const span = c.max - c.min;
    const yDomain = [c.min - 0.04 * span, c.max + 0.04 * span];
    const mid = (c.min + c.max) / 2;
    const mt = 8, mb = last ? 40 : 8;
    const labelsLeft = j % 2 === 0;
    const marks = [];

    if (c.name === "data") {
      marks.push(Plot.areaY(index, {x: i => times[i], y1: i => c.lo[i], y2: i => c.hi[i],
        fill: "#111", stroke: "#111", strokeWidth: 0.9, strokeLinejoin: "round"}));
    } else if (c.name === "seasonal") {
      marks.push(Plot.areaY(index, {x: i => times[i], y1: i => c.lo[i], y2: i => c.hi[i],
        curve: "monotone-x", fill: "#080808", stroke: "#080808", strokeWidth: 0.8}));
    } else if (c.name === "trend") {
      marks.push(Plot.lineY(index, {x: i => times[i], y: i => c.hi[i],
        stroke: "#222", strokeWidth: 1.2, strokeLinejoin: "round"}));
    } else {
      // remainder: dense spikes drawn as their envelope
      marks.push(Plot.areaY(index, {x: i => times[i], y1: i => c.lo[i], y2: i => c.hi[i],
        fill: "#1c1c1c", stroke: "#5a5a5a", strokeWidth: 0.7, strokeLinejoin: "round"}));
      marks.push(Plot.ruleY([0], {stroke: "#111", strokeWidth: 1}));
    }

    // range bar
    marks.push(Plot.rect([{x1: xDomain[1] - xSpan / 64, x2: xDomain[1] - 0.4 * xSpan / 64,
                           y1: mid - barLen / 2, y2: mid + barLen / 2}],
      {x1: "x1", x2: "x2", y1: "y1", y2: "y2", fill: "#d3d3d3", stroke: ink, strokeWidth: 0.9}));

    marks.push(Plot.frame({stroke: ink, strokeWidth: 1}));

    // tick marks on all four sides
    marks.push(Plot.axisX({anchor: "bottom", ticks: timeTicks, tickSize: 3.5, tickFormat: () => "", label: null, stroke: ink}));
    marks.push(Plot.axisX({anchor: "top", ticks: timeTicks, tickSize: 3.5, tickFormat: () => "", label: null, stroke: ink}));
    marks.push(Plot.axisY({anchor: "left", ticks: c.ticks, tickSize: 3.5, tickFormat: () => "", label: null, stroke: ink}));
    marks.push(Plot.axisY({anchor: "right", ticks: c.ticks, tickSize: 3.5, tickFormat: () => "", label: null, stroke: ink}));

    // tick labels, alternating left and right
    marks.push(Plot.text(c.labels, {y: d => d, text: d => String(d),
      frameAnchor: labelsLeft ? "left" : "right", dx: labelsLeft ? -11 : 11,
      rotate: -90, fontSize: 6.3, fill: "#333"}));
    // component name
    marks.push(Plot.text([c.name], {text: d => d, frameAnchor: "left", dx: -27,
      rotate: -90, fontSize: 9.3, fill: "#333"}));

    if (j === 0) {
      marks.push(Plot.text([chart.title], {text: d => d, frameAnchor: "top", dy: -18,
        fontSize: 7.4, fontWeight: "bold", fill: "#222"}));
    }
    if (last) {
      marks.push(Plot.text(timeTicks, {x: d => d, text: d => String(d), frameAnchor: "bottom",
        dy: 11, fontSize: 6.3, fill: "#333"}));
      marks.push(Plot.text(["time"], {text: d => d, frameAnchor: "bottom", dy: 26,
        fontSize: 9.7, fill: "#333"}));
    }

    const svg = Plot.plot({
      width: svgW,
      height: panelH + mt + mb,
      marginLeft: col.frameLeft - col.left,
      marginRight: col.left + svgW - col.frameRight,
      marginTop: mt,
      marginBottom: mb,
      x: {domain: xDomain},
      y: {domain: yDomain},
      style: {fontFamily: font, overflow: "visible", background: "transparent"},
      marks
    });
    svg.style.left = col.left + "px";
    svg.style.top = (rowTops[chart.row] + j * panelH - mt) + "px";
    page.appendChild(svg);
  });
}

charts.forEach(render);
</script>
</body>
</html>
